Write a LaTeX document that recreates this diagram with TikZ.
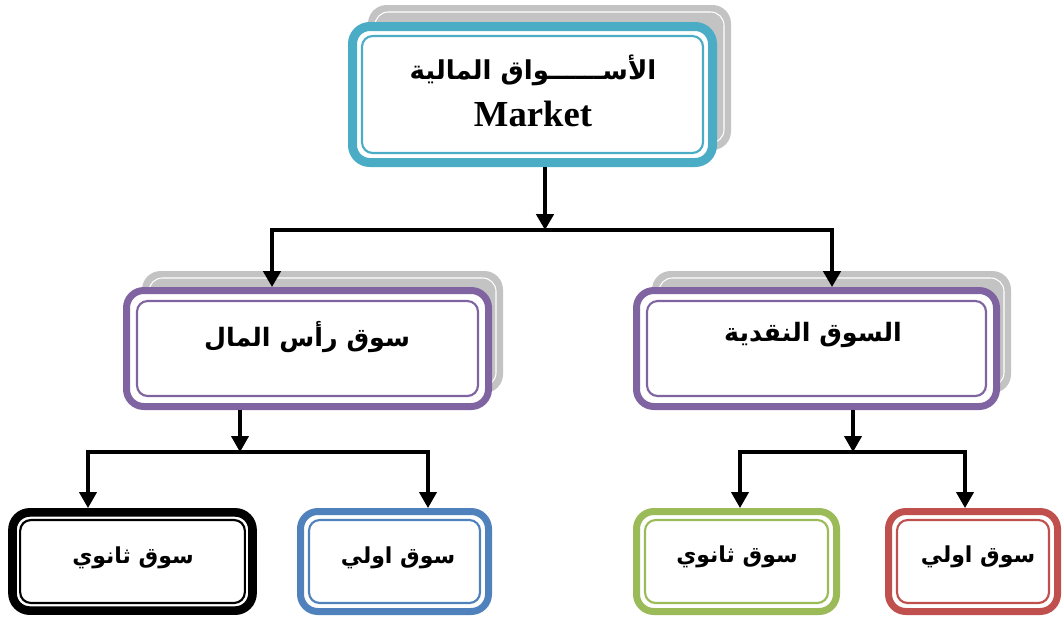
\documentclass[tikz,border=0pt]{standalone}
\usepackage{fontspec}
\setmainfont{Liberation Serif}
\newfontfamily\arabicfont[Script=Arabic]{DejaVu Sans}
\TeXXeTstate=1
\usetikzlibrary{arrows.meta}
\definecolor{cyanB}{HTML}{4BACC6}
\definecolor{purpleB}{HTML}{8064A2}
\definecolor{blueB}{HTML}{4F81BD}
\definecolor{greenB}{HTML}{9BBB59}
\definecolor{redB}{HTML}{C0504D}
\definecolor{shadowB}{HTML}{C3C3C3}
\tikzset{
  outerbox/.style={draw=#1, fill=white, rounded corners=13pt, inner sep=0pt},
  innerline/.style={draw=#1, line width=1.6pt, rounded corners=8pt},
  shadowrect/.style={fill=shadowB, rounded corners=14pt},
  shadowline/.style={draw=white, line width=0.8pt, rounded corners=10pt},
  conn/.style={line width=2.8pt},
  connB/.style={line width=2.3pt},
  tipone/.style={-{Triangle[width=13pt,length=12pt]}},
  tiptwo/.style={{Triangle[width=13pt,length=12pt]}-{Triangle[width=13pt,length=12pt]}},
  artext/.style={font=\arabicfont\bfseries\fontsize{#1}{#1}\selectfont, inner sep=0pt},
  entext/.style={font=\bfseries\fontsize{27.5pt}{28pt}\selectfont, inner sep=0pt},
}
\begin{document}
\begin{tikzpicture}[x=0.75pt,y=-0.75pt]
\useasboundingbox (0,0) rectangle (1063,619);

% shadows
\fill[shadowrect] (368,5) rectangle (731,150);
\draw[shadowline] (375,12) rectangle (724,143);
\fill[shadowrect] (142,271) rectangle (503,393);
\draw[shadowline] (149,278) rectangle (496,386);
\fill[shadowrect] (652,271) rectangle (1011,393);
\draw[shadowline] (659,278) rectangle (1004,386);

% boxes
\node[outerbox=cyanB, line width=6.75pt, minimum width=270pt, minimum height=102pt] (top) at (532.5,94.5) {};
\node[outerbox=purpleB, line width=5.25pt, minimum width=271.5pt, minimum height=87pt] (cap) at (307.5,348.5) {};
\node[outerbox=purpleB, line width=5.25pt, minimum width=270pt, minimum height=87pt] (money) at (816.5,348.5) {};
\node[outerbox=black, line width=6.5pt, minimum width=180pt, minimum height=73.7pt] (sec1) at (132.5,561.5) {};
\node[outerbox=blueB, line width=5.25pt, minimum width=141pt, minimum height=75pt] (prim1) at (394.5,561.5) {};
\node[outerbox=greenB, line width=5.25pt, minimum width=150pt, minimum height=75pt] (sec2) at (736.5,561.5) {};
\node[outerbox=redB, line width=5.25pt, minimum width=126.75pt, minimum height=75pt] (prim2) at (973,561.5) {};

% inner lines
\draw[innerline=cyanB] ([shift={(10.5pt,-10.5pt)}]top.north west) rectangle ([shift={(-10.5pt,10.5pt)}]top.south east);
\draw[innerline=purpleB] ([shift={(10.5pt,-10.5pt)}]cap.north west) rectangle ([shift={(-10.5pt,10.5pt)}]cap.south east);
\draw[innerline=purpleB] ([shift={(10.5pt,-10.5pt)}]money.north west) rectangle ([shift={(-10.5pt,10.5pt)}]money.south east);
\draw[innerline=black] ([shift={(9pt,-9pt)}]sec1.north west) rectangle ([shift={(-9pt,9pt)}]sec1.south east);
\draw[innerline=blueB] ([shift={(9pt,-9pt)}]prim1.north west) rectangle ([shift={(-9pt,9pt)}]prim1.south east);
\draw[innerline=greenB] ([shift={(9pt,-9pt)}]sec2.north west) rectangle ([shift={(-9pt,9pt)}]sec2.south east);
\draw[innerline=redB] ([shift={(9pt,-9pt)}]prim2.north west) rectangle ([shift={(-9pt,9pt)}]prim2.south east);

% texts
\node[artext=19.5pt] (ttop) at (533,70) {\beginR الأســــــواق المالية\endR};
\node[entext] (tmkt) at (533,114) {Market};
\node[artext=19pt] (tcap) at (307,337) {\beginR سوق رأس المال\endR};
\node[artext=19pt] (tmoney) at (813,335) {\beginR السوق النقدية\endR};
\node[artext=16.5pt] (tsec1) at (133,558) {\beginR سوق ثانوي\endR};
\node[artext=16.5pt] (tprim1) at (398,558) {\beginR سوق اولي\endR};
\node[artext=16.5pt] (tsec2) at (737,557) {\beginR سوق ثانوي\endR};
\node[artext=16.5pt] (tprim2) at (978,557) {\beginR سوق اولي\endR};

% connectors
\coordinate (j0) at (545,230);
\coordinate (bl) at (272,230);
\coordinate (br) at (832,230);
\draw[conn,tipone] (top.south -| j0) -- (j0);
\draw[conn,tiptwo] (cap.north -| bl) -- (bl) -- (br) -- (money.north -| br);

\coordinate (j1) at (240,452);
\coordinate (bl1) at (88,452);
\coordinate (br1) at (428,452);
\draw[connB,tipone] (cap.south -| j1) -- (j1);
\draw[connB,tiptwo] (sec1.north -| bl1) -- (bl1) -- (br1) -- (prim1.north -| br1);

\coordinate (j2) at (853,452);
\coordinate (bl2) at (740,452);
\coordinate (br2) at (965,452);
\draw[connB,tipone] (money.south -| j2) -- (j2);
\draw[connB,tiptwo] (sec2.north -| bl2) -- (bl2) -- (br2) -- (prim2.north -| br2);
\end{tikzpicture}
\end{document}
